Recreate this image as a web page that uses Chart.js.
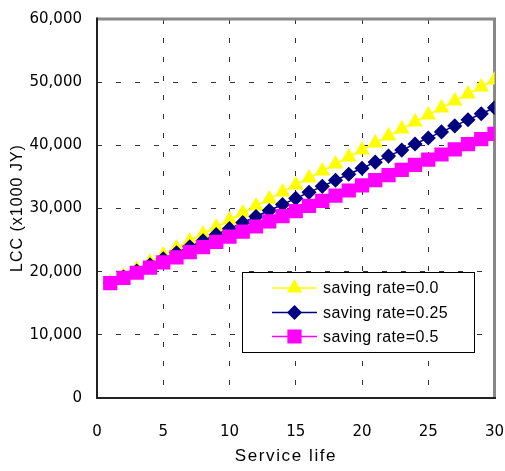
<!DOCTYPE html>
<html>
<head>
<meta charset="utf-8">
<script src="https://cdn.jsdelivr.net/npm/chart.js@4.4.0/dist/chart.umd.min.js"></script>
<style>
  body { margin: 0; background: #fff; }
</style>
</head>
<body>
<canvas id="lccChart" width="505" height="471"></canvas>
<script>
// service life (years) on the x axis
const serviceLife = [1, 2, 3, 4, 5, 6, 7, 8, 9, 10, 11, 12, 13, 14, 15,
  16, 17, 18, 19, 20, 21, 22, 23, 24, 25, 26, 27, 28, 29, 30];

// LCC in 1000 JY for each saving rate
const rate00 = [18200, 19310, 20420, 21530, 22640, 23750, 24850, 25960, 27070, 28180,
  29290, 30400, 31510, 32620, 33730, 34840, 35940, 37050, 38160, 39270,
  40380, 41490, 42600, 43710, 44820, 45930, 47030, 48140, 49250, 50360];
const rate025 = [18200, 19160, 20110, 21070, 22030, 22990, 23940, 24900, 25860, 26810,
  27770, 28730, 29680, 30640, 31600, 32560, 33510, 34470, 35430, 36380,
  37340, 38300, 39250, 40210, 41170, 42130, 43080, 44040, 45000, 45950];
const rate05 = [18200, 19010, 19830, 20640, 21460, 22270, 23080, 23900, 24710, 25530,
  26340, 27150, 27970, 28780, 29600, 30410, 31220, 32040, 32850, 33670,
  34480, 35290, 36110, 36920, 37740, 38550, 39360, 40180, 40990, 41810];

const seriesNames = ['saving rate=0.0', 'saving rate=0.25', 'saving rate=0.5'];

const xTicks = [0, 5, 10, 15, 20, 25, 30];
const yTicks = [0, 10000, 20000, 30000, 40000, 50000, 60000];

const xTitle = 'Service life';
const yTitle = 'LCC (x1000 JY)';

function toPoints(values) {
  return values.map((v, i) => ({ x: serviceLife[i], y: v }));
}

// frame, axis titles and the boxed legend
const extras = {
  id: 'extras',
  beforeDatasetsDraw(chart) {
    const ctx = chart.ctx;
    const { left, right, top, bottom } = chart.chartArea;
    ctx.save();
    ctx.lineWidth = 3;
    ctx.strokeStyle = '#888888';
    ctx.beginPath();
    ctx.moveTo(left, top);
    ctx.lineTo(right, top);
    ctx.lineTo(right, bottom);
    ctx.stroke();
    ctx.lineWidth = 2;
    ctx.strokeStyle = '#222222';
    ctx.beginPath();
    ctx.moveTo(left, top - 1.5);
    ctx.lineTo(left, bottom);
    ctx.lineTo(right + 1.5, bottom);
    ctx.stroke();
    ctx.restore();
  },
  afterDraw(chart) {
    const ctx = chart.ctx;
    ctx.save();

    // legend box
    const boxX = 242.5, boxY = 272.5, boxW = 232, boxH = 80;
    ctx.fillStyle = '#ffffff';
    ctx.fillRect(boxX, boxY, boxW, boxH);
    ctx.lineWidth = 1;
    ctx.strokeStyle = '#000000';
    ctx.strokeRect(boxX, boxY, boxW, boxH);

    const rows = [288, 312.5, 336.5];
    chart.data.datasets.forEach((ds, i) => {
      const y = rows[i];
      ctx.strokeStyle = ds.borderColor;
      ctx.lineWidth = ds.borderWidth;
      ctx.beginPath();
      ctx.moveTo(272, y);
      ctx.lineTo(317, y);
      ctx.stroke();
      ctx.fillStyle = ds.pointBackgroundColor;
      ctx.strokeStyle = ds.pointBorderColor;
      Chart.helpers.drawPoint(ctx, {
        pointStyle: ds.pointStyle,
        radius: ds.pointRadius,
        borderWidth: 1,
        rotation: 0
      }, 294.5, y);
      ctx.fillStyle = '#000000';
      ctx.font = '16px "Liberation Sans", Arial, sans-serif';
      ctx.letterSpacing = '0.4px';
      ctx.textAlign = 'left';
      ctx.textBaseline = 'middle';
      ctx.fillText(ds.label, 323, y + 1);
    });

    // axis titles
    ctx.fillStyle = '#000000';
    ctx.textAlign = 'center';
    ctx.textBaseline = 'middle';
    ctx.font = '17px "Liberation Sans", Arial, sans-serif';
    ctx.letterSpacing = '1.6px';
    ctx.fillText(xTitle, 286, 456);
    ctx.font = '16px "Liberation Sans", Arial, sans-serif';
    ctx.letterSpacing = '1px';
    ctx.translate(18, 208);
    ctx.rotate(-Math.PI / 2);
    ctx.fillText(yTitle, 0, 0);
    ctx.restore();
  }
};

const tickFont = { family: '"DejaVu Sans", sans-serif', size: 15 };

new Chart(document.getElementById('lccChart'), {
  type: 'line',
  data: {
    datasets: [
      {
        label: seriesNames[0],
        data: toPoints(rate00),
        borderColor: '#ffff00',
        backgroundColor: '#ffff00',
        pointBackgroundColor: '#ffff00',
        pointBorderColor: '#ffff00',
        pointStyle: 'triangle',
        pointRadius: 7.5,
        borderWidth: 1.5,
        order: 3
      },
      {
        label: seriesNames[1],
        data: toPoints(rate025),
        borderColor: '#000080',
        backgroundColor: '#000080',
        pointBackgroundColor: '#000080',
        pointBorderColor: '#000080',
        pointStyle: 'rectRot',
        pointRadius: 6.5,
        borderWidth: 1.5,
        order: 2
      },
      {
        label: seriesNames[2],
        data: toPoints(rate05),
        borderColor: '#ff00ff',
        backgroundColor: '#ff00ff',
        pointBackgroundColor: '#ff00ff',
        pointBorderColor: '#ff00ff',
        pointStyle: 'rect',
        pointRadius: 9,
        borderWidth: 1.5,
        order: 1
      }
    ]
  },
  options: {
    responsive: false,
    animation: false,
    layout: { padding: { top: 19, right: 9, left: 0, bottom: 0 } },
    plugins: {
      legend: { display: false },
      tooltip: { enabled: false }
    },
    elements: {
      line: { tension: 0 },
      point: { borderWidth: 1 }
    },
    scales: {
      x: {
        type: 'linear',
        min: 0,
        max: 30,
        afterBuildTicks: scale => { scale.ticks = xTicks.map(v => ({ value: v })); },
        afterFit: scale => { scale.height = 73; scale.paddingLeft = 0; scale.paddingRight = 0; },
        ticks: { color: '#000', font: tickFont, padding: 25, maxRotation: 0, autoSkip: false },
        grid: { color: '#333', lineWidth: 1, drawTicks: false },
        border: { display: false, dash: [5, 14] }
      },
      y: {
        min: 0,
        max: 60000,
        afterBuildTicks: scale => { scale.ticks = yTicks.map(v => ({ value: v })); },
        afterFit: scale => { scale.width = 97; scale.paddingTop = 0; scale.paddingBottom = 0; },
        ticks: { color: '#000', font: tickFont, padding: 15 },
        grid: { color: '#333', lineWidth: 1, drawTicks: false },
        border: { display: false, dash: [5, 14] }
      }
    }
  },
  plugins: [extras]
});
</script>
</body>
</html>
